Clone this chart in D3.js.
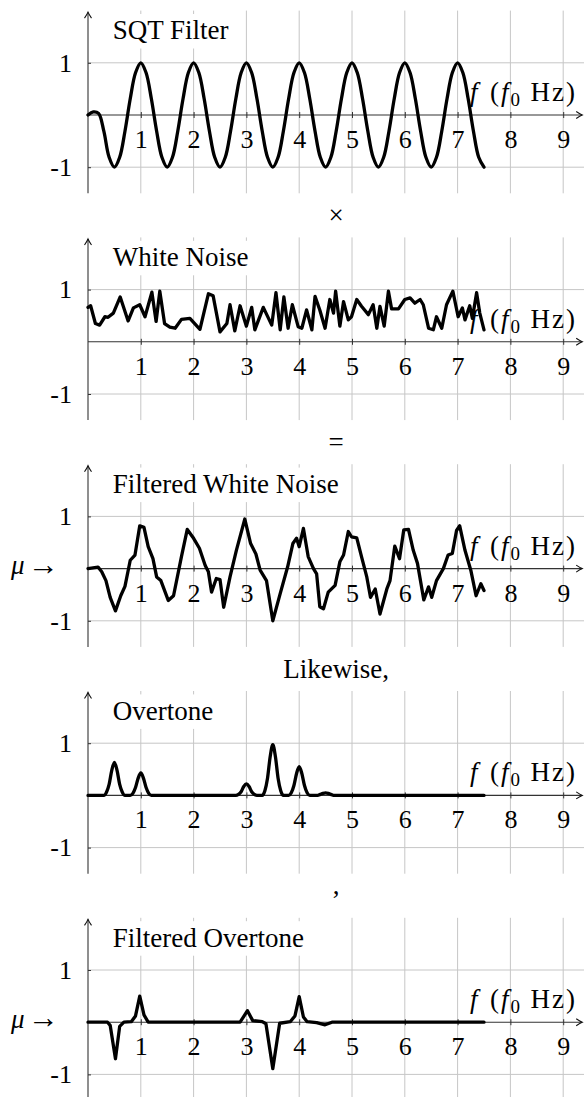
<!DOCTYPE html>
<html>
<head>
<meta charset="utf-8">
<script src="https://cdn.jsdelivr.net/npm/d3@7"></script>
<style>
  body { margin: 0; background: #fff; }
  svg { display: block; }
</style>
</head>
<body>
<svg id="chart" width="584" height="1097"></svg>
<script>
// ---- data ----
var freqTicks = [1, 2, 3, 4, 5, 6, 7, 8, 9];
var ampTicks = [-1, 1];
var titles = ["SQT Filter", "White Noise", "Filtered White Noise", "Overtone", "Filtered Overtone"];
var joiners = ["×", "=", "Likewise,", ","];
var muPanels = [2, 4];

// SQT filter, sampled every 0.1 f0 from 0 to 7.5
var sqtStep = 0.1;
var sqtFilter = [
  0, 0.06, 0.03, -0.31, -0.81, -1, -0.81, -0.31, 0.31, 0.81,
  1, 0.81, 0.31, -0.31, -0.81, -1, -0.81, -0.31, 0.31, 0.81,
  1, 0.81, 0.31, -0.31, -0.81, -1, -0.81, -0.31, 0.31, 0.81,
  1, 0.81, 0.31, -0.31, -0.81, -1, -0.81, -0.31, 0.31, 0.81,
  1, 0.81, 0.31, -0.31, -0.81, -1, -0.81, -0.31, 0.31, 0.81,
  1, 0.81, 0.31, -0.31, -0.81, -1, -0.81, -0.31, 0.31, 0.81,
  1, 0.81, 0.31, -0.31, -0.81, -1, -0.81, -0.31, 0.31, 0.81,
  1, 0.81, 0.31, -0.31, -0.81, -1
];

// [f, amplitude]
var whiteNoise = [[0,0.66],[0.05,0.69],[0.14,0.35],[0.22,0.32],[0.32,0.48],[0.38,0.47],[0.48,0.55],[0.61,0.86],
  [0.76,0.4],[0.86,0.65],[0.98,0.71],[1.08,0.48],[1.21,0.95],[1.29,0.39],[1.36,0.97],[1.45,0.35],[1.55,0.28],
  [1.65,0.26],[1.77,0.43],[1.93,0.45],[2.12,0.24],[2.28,0.92],[2.37,0.88],[2.5,0.19],[2.63,0.35],[2.69,0.71],
  [2.78,0.21],[2.88,0.69],[3.0,0.3],[3.1,0.66],[3.16,0.23],[3.32,0.66],[3.48,0.32],[3.56,0.94],[3.64,0.23],
  [3.71,0.86],[3.79,0.26],[3.87,0.71],[3.98,0.29],[4.05,0.26],[4.14,0.61],[4.24,0.23],[4.3,0.87],[4.39,0.61],
  [4.49,0.26],[4.58,0.81],[4.65,0.55],[4.69,0.97],[4.77,0.3],[4.84,0.77],[4.93,0.42],[4.99,0.48],[5.09,0.81],
  [5.18,0.68],[5.31,0.52],[5.4,0.71],[5.47,0.26],[5.53,0.68],[5.61,0.3],[5.69,0.97],[5.75,0.63],[5.88,0.63],
  [6.0,0.81],[6.1,0.84],[6.19,0.74],[6.29,0.81],[6.35,0.71],[6.45,0.26],[6.54,0.23],[6.6,0.48],[6.7,0.26],
  [6.79,0.71],[6.91,0.97],[7.01,0.48],[7.09,0.65],[7.14,0.42],[7.23,0.69],[7.28,0.45],[7.36,0.94],[7.42,0.55],
  [7.5,0.23]];

var filteredNoise = [[0,0],[0.19,0.03],[0.26,-0.06],[0.34,-0.23],[0.42,-0.55],[0.52,-0.81],[0.62,-0.52],
  [0.7,-0.34],[0.8,0.16],[0.89,0.26],[0.98,0.82],[1.06,0.79],[1.14,0.42],[1.23,0.19],[1.3,-0.16],[1.38,-0.23],
  [1.52,-0.61],[1.62,-0.52],[1.77,0.23],[1.88,0.75],[2.0,0.58],[2.11,0.39],[2.22,0.06],[2.28,-0.06],[2.34,-0.45],
  [2.43,-0.19],[2.5,-0.21],[2.57,-0.74],[2.69,-0.16],[2.81,0.35],[2.97,0.95],[3.08,0.48],[3.18,0.28],[3.26,-0.03],
  [3.38,-0.23],[3.5,-1.0],[3.64,-0.48],[3.78,0.03],[3.88,0.48],[3.95,0.58],[4.0,0.42],[4.08,0.77],[4.17,0.23],
  [4.27,0],[4.33,-0.1],[4.39,-0.73],[4.46,-0.77],[4.55,-0.45],[4.68,-0.32],[4.77,0.13],[4.84,0.26],[4.93,0.71],
  [4.99,0.61],[5.09,0.59],[5.18,0.23],[5.28,-0.16],[5.35,-0.55],[5.44,-0.39],[5.53,-0.87],[5.66,-0.39],
  [5.72,-0.23],[5.81,0.43],[5.9,0.19],[5.98,0.74],[6.07,0.75],[6.16,0.35],[6.24,0.1],[6.36,-0.6],[6.45,-0.35],
  [6.51,-0.55],[6.6,-0.23],[6.73,0],[6.82,0.26],[6.9,0.29],[6.98,0.73],[7.04,0.82],[7.14,0.35],[7.25,-0.03],
  [7.35,-0.52],[7.44,-0.29],[7.5,-0.42]];

var overtone = [[0,0],[0.3,0],[0.35,0.06],[0.4,0.21],[0.45,0.48],[0.5,0.63],[0.55,0.48],[0.6,0.21],[0.65,0.06],[0.7,0],
  [0.8,0],[0.85,0.04],[0.9,0.15],[0.95,0.33],[1.0,0.43],[1.05,0.33],[1.1,0.15],[1.15,0.04],[1.2,0],
  [2.8,0],[2.85,0.02],[2.9,0.07],[2.95,0.17],[3.0,0.22],[3.05,0.17],[3.1,0.07],[3.15,0.02],[3.2,0],
  [3.3,0],[3.35,0.09],[3.4,0.33],[3.45,0.74],[3.5,0.97],[3.55,0.74],[3.6,0.33],[3.65,0.09],[3.7,0],
  [3.8,0],[3.85,0.05],[3.9,0.19],[3.95,0.42],[4.0,0.55],[4.05,0.42],[4.1,0.19],[4.15,0.05],[4.2,0],
  [4.35,0],[4.4,0.02],[4.45,0.04],[4.5,0.05],[4.55,0.04],[4.6,0.02],[4.65,0],[7.5,0]];

var filteredOvertone = [[0,0],[0.37,0],[0.42,-0.06],[0.52,-0.7],[0.6,-0.08],[0.68,0],[0.82,0.01],[0.9,0.12],
  [0.98,0.5],[1.06,0.14],[1.14,0],[2.88,0],[3.02,0.22],[3.12,0.03],[3.3,0.01],[3.37,-0.03],[3.5,-0.89],
  [3.63,-0.02],[3.83,0.01],[3.92,0.12],[4.0,0.49],[4.08,0.1],[4.15,0.01],[4.33,-0.01],[4.49,-0.05],[4.62,0],[7.5,0]];

// ---- layout ----
var originX = 88, unitX = 52.8, unitY = 52.2;
var firstAxisY = 115, panelStep = 226.8;
var serif = "Liberation Serif";

var x = d3.scaleLinear().domain([0, 9.4]).range([originX, originX + 9.4 * unitX]);

var svg = d3.select("#chart");

var panels = [
  { title: titles[0], data: sqtFilter.map(function(v, i) { return [i * sqtStep, v]; }), curve: d3.curveCatmullRom },
  { title: titles[1], data: whiteNoise, curve: d3.curveLinear },
  { title: titles[2], data: filteredNoise, curve: d3.curveLinear },
  { title: titles[3], data: overtone, curve: d3.curveMonotoneX },
  { title: titles[4], data: filteredOvertone, curve: d3.curveLinear }
];

// small tikz-like arrow head, tip at (0,0) pointing right
var arrowPath = "M-6,-3.5 Q-2,-0.8 0,0 Q-2,0.8 -6,3.5";

panels.forEach(function(p, i) {
  var axisY = firstAxisY + i * panelStep;
  var y = d3.scaleLinear().domain([-1.5, 2]).range([axisY + 1.5 * unitY, axisY - 2 * unitY]);
  var g = svg.append("g");

  // grid
  g.selectAll("line.vgrid").data(freqTicks).enter().append("line")
    .attr("class", "vgrid")
    .attr("x1", x).attr("x2", x)
    .attr("y1", y(-1.5)).attr("y2", y(2))
    .attr("stroke", "#c6c6c6").attr("stroke-width", 1);
  g.selectAll("line.hgrid").data(ampTicks).enter().append("line")
    .attr("class", "hgrid")
    .attr("x1", x(0)).attr("x2", x(9.4))
    .attr("y1", y).attr("y2", y)
    .attr("stroke", "#c6c6c6").attr("stroke-width", 1);

  // title on a white box
  var box = g.append("rect").attr("fill", "#fff");
  var tt = g.append("text")
    .attr("x", x(0.47)).attr("y", axisY - 75.7)
    .attr("font-family", serif).attr("font-size", 27)
    .text(p.title);
  var tw = tt.node().getComputedTextLength();
  box.attr("x", x(0.47) - 6).attr("y", axisY - 101)
    .attr("width", tw + 14).attr("height", 34.5);

  // x axis
  var xAxis = d3.axisBottom(x).tickValues(freqTicks).tickSizeInner(3).tickSizeOuter(0).tickFormat(d3.format("d"));
  var ax = g.append("g").attr("transform", "translate(0," + axisY + ")").call(xAxis);
  ax.attr("font-size", 26).attr("font-family", serif);
  ax.select(".domain").remove();
  ax.selectAll(".tick line").attr("y1", -3).attr("stroke", "#333");
  ax.selectAll(".tick text").attr("y", 33).attr("dy", null).attr("fill", "#000");

  g.append("line")
    .attr("x1", x(0)).attr("x2", x(9.36))
    .attr("y1", axisY).attr("y2", axisY)
    .attr("stroke", "#333").attr("stroke-width", 1.1);
  g.append("path")
    .attr("d", arrowPath)
    .attr("transform", "translate(" + x(9.36) + "," + axisY + ")")
    .attr("fill", "none").attr("stroke", "#111").attr("stroke-width", 1.1);

  // y axis
  var yAxis = d3.axisLeft(y).tickValues(ampTicks).tickSizeInner(3).tickSizeOuter(0)
    .tickFormat(function(d) { return String(d); });
  var ay = g.append("g").attr("transform", "translate(" + x(0) + ",0)").call(yAxis);
  ay.attr("font-size", 26).attr("font-family", serif);
  ay.select(".domain").remove();
  ay.selectAll(".tick line").attr("x2", 3).attr("stroke", "#333");
  ay.selectAll(".tick text").attr("x", -16).attr("fill", "#000");

  g.append("line")
    .attr("x1", x(0)).attr("x2", x(0))
    .attr("y1", y(-1.5)).attr("y2", y(1.97))
    .attr("stroke", "#333").attr("stroke-width", 1.1);
  g.append("path")
    .attr("d", arrowPath)
    .attr("transform", "translate(" + x(0) + "," + y(1.97) + ") rotate(-90)")
    .attr("fill", "none").attr("stroke", "#111").attr("stroke-width", 1.1);

  // axis label  f  (f0 Hz)
  g.append("text")
    .attr("x", 470).attr("y", axisY - 14)
    .attr("font-family", serif).attr("font-size", 27)
    .style("font-style", "italic")
    .text("f");
  var lab = g.append("text")
    .attr("x", 490).attr("y", axisY - 14)
    .attr("textLength", 85).attr("lengthAdjust", "spacing")
    .attr("font-family", serif).attr("font-size", 27);
  lab.append("tspan").text("(");
  lab.append("tspan").style("font-style", "italic").text("f");
  lab.append("tspan").attr("dy", 5).attr("font-size", 19).text("0");
  lab.append("tspan").attr("dy", -5).text(" Hz)");

  if (muPanels.indexOf(i) >= 0) {
    g.append("text")
      .attr("x", 11).attr("y", axisY + 5.5)
      .attr("font-family", serif).attr("font-size", 27)
      .style("font-style", "italic")
      .text("μ");
    g.append("text")
      .attr("x", 59).attr("y", axisY + 6)
      .attr("text-anchor", "end")
      .attr("font-family", serif).attr("font-size", 31)
      .text("→");
  }

  // curve
  var line = d3.line()
    .x(function(d) { return x(d[0]); })
    .y(function(d) { return y(d[1]); })
    .curve(p.curve);
  g.append("path")
    .datum(p.data)
    .attr("d", line)
    .attr("fill", "none")
    .attr("stroke", "#000")
    .attr("stroke-width", 3.3)
    .attr("stroke-linejoin", "round")
    .attr("stroke-linecap", "round");

  // connecting word below the panel
  if (i < joiners.length) {
    svg.append("text")
      .attr("x", x(4.7))
      .attr("y", axisY + (joiners[i] === "," ? 99 : 109))
      .attr("text-anchor", "middle")
      .attr("font-family", serif).attr("font-size", 27)
      .text(joiners[i]);
  }
});
</script>
</body>
</html>
